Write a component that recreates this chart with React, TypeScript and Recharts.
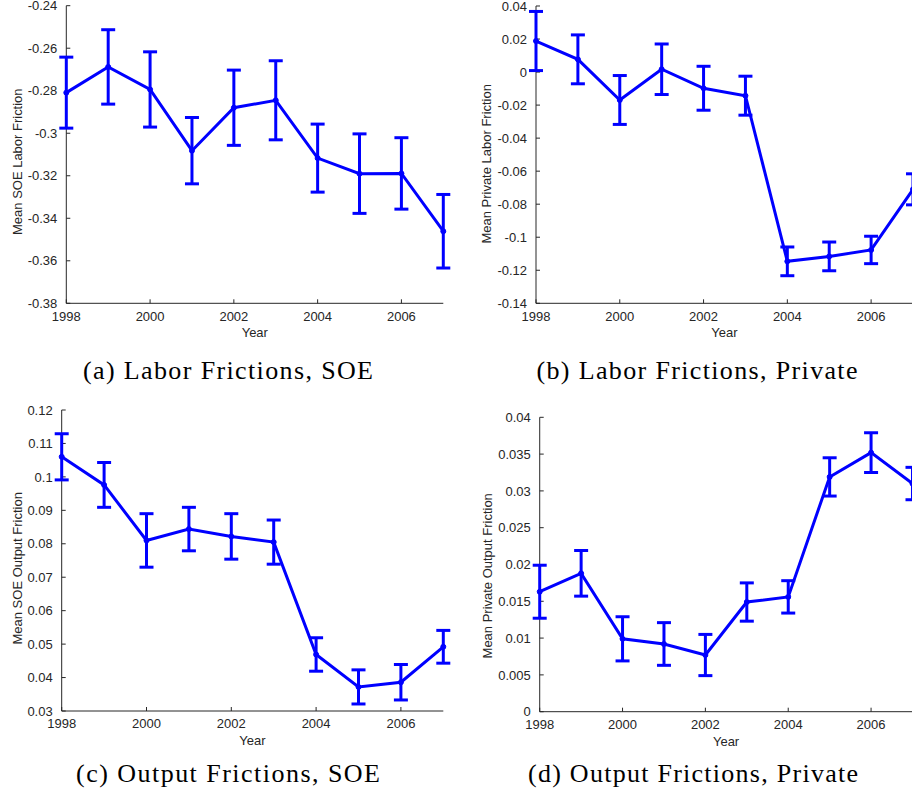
import React from 'react';
import { LineChart, Line, XAxis, YAxis, ErrorBar } from 'recharts';

// years on the x axis, labelled every other year
const years = [1998, 1999, 2000, 2001, 2002, 2003, 2004, 2005, 2006, 2007];
const yearTicks = [1998, 2000, 2002, 2004, 2006];

// (a) labor frictions, SOE
const soeLaborMean = [-0.2809, -0.2688, -0.2794, -0.3082, -0.288, -0.2845, -0.3117, -0.319, -0.3189, -0.3461];
const soeLaborErr = [0.0167, 0.0175, 0.0177, 0.0156, 0.0177, 0.0186, 0.016, 0.0187, 0.0168, 0.0173];
const soeLaborTicks = [-0.38, -0.36, -0.34, -0.32, -0.3, -0.28, -0.26, -0.24];

// (b) labor frictions, private
const privLaborMean = [0.0188, 0.0077, -0.0169, 0.0017, -0.0098, -0.0143, -0.1146, -0.1116, -0.1077, -0.071];
const privLaborErr = [0.0179, 0.0148, 0.0148, 0.0153, 0.0133, 0.0118, 0.0087, 0.0087, 0.0083, 0.0094];
const privLaborTicks = [-0.14, -0.12, -0.1, -0.08, -0.06, -0.04, -0.02, 0, 0.02, 0.04];

// (c) output frictions, SOE
const soeOutputMean = [0.106, 0.0976, 0.081, 0.0844, 0.0822, 0.0805, 0.0469, 0.0372, 0.0386, 0.0492];
const soeOutputErr = [0.0069, 0.0067, 0.008, 0.0065, 0.0068, 0.0066, 0.005, 0.0051, 0.0053, 0.0049];
const soeOutputTicks = [0.03, 0.04, 0.05, 0.06, 0.07, 0.08, 0.09, 0.1, 0.11, 0.12];

// (d) output frictions, private
const privOutputMean = [0.0163, 0.0188, 0.0099, 0.0092, 0.0077, 0.0149, 0.0156, 0.0319, 0.0352, 0.031];
const privOutputErr = [0.0036, 0.0031, 0.003, 0.0029, 0.0028, 0.0026, 0.0022, 0.0026, 0.0027, 0.0022];
const privOutputTicks = [0, 0.005, 0.01, 0.015, 0.02, 0.025, 0.03, 0.035, 0.04];

const AXIS = '#262626';
const BLUE = '#0000ff';
const SANS = '"Liberation Sans", Arial, Helvetica, sans-serif';

const fmt = (v: number) => String(Number(v.toFixed(4)));

// axis title drawn at fixed chart-local coords
function AxisTitle({ tx, ty, text, vertical }: any) {
  return (
    <text
      x={tx}
      y={ty}
      textAnchor="middle"
      fontFamily={SANS}
      fontSize={13}
      fill={AXIS}
      transform={vertical ? `rotate(-90, ${tx}, ${ty})` : undefined}
    >
      {text}
    </text>
  );
}

interface PanelProps {
  left: number;
  top: number;
  plot: { left: number; right: number; top: number; bottom: number };
  mean: number[];
  err: number[];
  ticks: number[];
  yLabel: string;
  yLabelX: number;
  yLabelY: number;
}

function Panel({ left, top, plot, mean, err, ticks, yLabel, yLabelX, yLabelY }: PanelProps) {
  const data = years.map((year, i) => ({ year, mean: mean[i], err: err[i] }));
  const width = 470;
  const plotBottom = plot.bottom - top;
  const height = plotBottom + 45;
  const yAxisWidth = plot.left - left;

  return (
    <div style={{ position: 'absolute', left, top }}>
      <LineChart
        width={width}
        height={height}
        data={data}
        margin={{ top: plot.top - top, right: left + width - plot.right, bottom: 5, left: 0 }}
      >
        <XAxis
          dataKey="year"
          type="number"
          domain={[1998, 2007]}
          ticks={yearTicks}
          interval={0}
          height={40}
          tickSize={-4}
          tickMargin={12}
          axisLine={{ stroke: AXIS }}
          tickLine={{ stroke: AXIS }}
          tick={{ fill: AXIS, fontSize: 13, fontFamily: SANS }}
          label={
            <AxisTitle
              tx={(plot.left + plot.right) / 2 - left}
              ty={plotBottom + 34}
              text="Year"
            />
          }
        />
        <YAxis
          type="number"
          domain={[ticks[0], ticks[ticks.length - 1]]}
          ticks={ticks}
          interval={0}
          width={yAxisWidth}
          tickSize={-4}
          tickMargin={13}
          tickFormatter={fmt}
          axisLine={{ stroke: AXIS }}
          tickLine={{ stroke: AXIS }}
          tick={{ fill: AXIS, fontSize: 13, fontFamily: SANS }}
          label={
            <AxisTitle tx={yLabelX + 4.7 - left} ty={yLabelY - top} text={yLabel} vertical />
          }
        />
        <Line
          type="linear"
          dataKey="mean"
          stroke={BLUE}
          strokeWidth={3}
          dot={{ r: 2.5, fill: BLUE, stroke: BLUE, strokeWidth: 1 }}
          isAnimationActive={false}
          zIndex={1000}
        >
          <ErrorBar dataKey="err" direction="y" width={7} strokeWidth={3} stroke={BLUE} zIndex={1000} />
        </Line>
      </LineChart>
    </div>
  );
}

const captions = [
  { x: 228, y: 379, len: 290, text: '(a) Labor Frictions, SOE' },
  { x: 697, y: 379, len: 321, text: '(b) Labor Frictions, Private' },
  { x: 228, y: 782, len: 304, text: '(c) Output Frictions, SOE' },
  { x: 693, y: 782, len: 330, text: '(d) Output Frictions, Private' },
];

export default function App() {
  return (
    <div
      style={{
        position: 'absolute',
        left: 0,
        top: 0,
        width: 912,
        height: 799,
        overflow: 'hidden',
        background: '#fff',
      }}
    >
      <Panel
        left={0}
        top={0}
        plot={{ left: 66.3, right: 443.3, top: 5.7, bottom: 303.3 }}
        mean={soeLaborMean}
        err={soeLaborErr}
        ticks={soeLaborTicks}
        yLabel="Mean SOE Labor Friction"
        yLabelX={17}
        yLabelY={161.7}
      />
      <Panel
        left={456}
        top={0}
        plot={{ left: 536, right: 913, top: 6, bottom: 303.3 }}
        mean={privLaborMean}
        err={privLaborErr}
        ticks={privLaborTicks}
        yLabel="Mean Private Labor Friction"
        yLabelX={486.5}
        yLabelY={163.8}
      />
      <Panel
        left={0}
        top={395}
        plot={{ left: 61.7, right: 443.3, top: 410, bottom: 711 }}
        mean={soeOutputMean}
        err={soeOutputErr}
        ticks={soeOutputTicks}
        yLabel="Mean SOE Output Friction"
        yLabelX={17}
        yLabelY={568.3}
      />
      <Panel
        left={456}
        top={395}
        plot={{ left: 539.7, right: 912.5, top: 417.3, bottom: 711.7 }}
        mean={privOutputMean}
        err={privOutputErr}
        ticks={privOutputTicks}
        yLabel="Mean Private Output Friction"
        yLabelX={487.3}
        yLabelY={575.8}
      />
      <svg
        width={912}
        height={799}
        style={{ position: 'absolute', left: 0, top: 0, pointerEvents: 'none' }}
      >
        {captions.map((c) => (
          <text
            key={c.text}
            x={c.x}
            y={c.y}
            textAnchor="middle"
            textLength={c.len}
            lengthAdjust="spacing"
            fontFamily='"Liberation Serif", "Times New Roman", serif'
            fontSize={26}
            fill="#000"
          >
            {c.text}
          </text>
        ))}
      </svg>
    </div>
  );
}
